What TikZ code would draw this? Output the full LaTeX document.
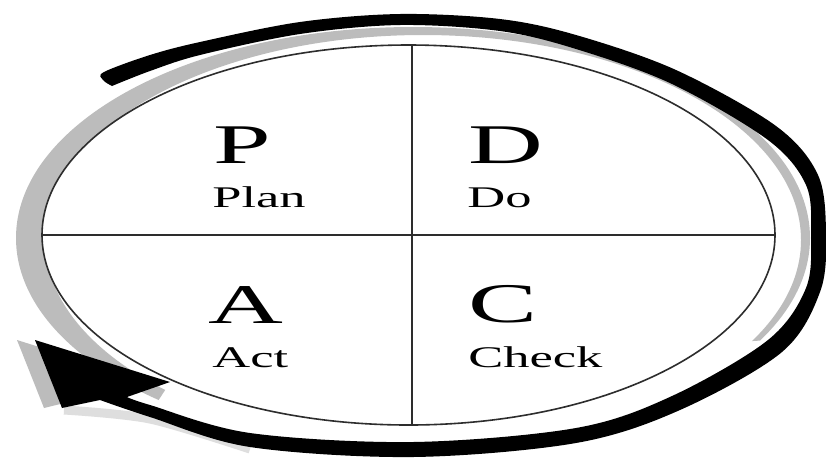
\documentclass[tikz,border=0pt]{standalone}
\usepackage{fontspec}
\setmainfont{Liberation Serif}
\definecolor{ringgray}{RGB}{188,188,188}
\definecolor{softgray}{RGB}{222,222,222}
\definecolor{linegray}{RGB}{45,45,45}
\begin{document}
\begin{tikzpicture}[x=1pt,y=-1pt,
  big/.style={anchor=base west, inner sep=0, font=\fontsize{56}{56}\selectfont, xscale=1.85},
  small/.style={anchor=base west, inner sep=0, font=\fontsize{30}{30}\selectfont, xscale=1.75},
  divider/.style={draw=linegray, line width=1.8}]
\useasboundingbox (0,0) rectangle (826,459);
\fill[white] (0,0) rectangle (826,459);
% gray shadow ring
\begin{scope}
  \clip (0,0) -- (826,0) -- (826,300) -- (770,340) -- (175,375) -- (120,459) -- (0,459) -- cycle;
  \fill[ringgray, even odd rule] (413,238) ellipse [x radius=397, y radius=211]
                                 (423,240) ellipse [x radius=378, y radius=205];
\end{scope}
% shadow of the arrow head and shaft
\draw[softgray, line width=9] plot[smooth] coordinates {(64,410) (150,419) (250,449)};
\fill[ringgray] (17,340) -- (150,382) -- (44,408) -- cycle;
% inner ellipse
\draw[draw=linegray, line width=1.6, fill=white] (408.5,235) ellipse [x radius=366.5, y radius=190];
% dividers
\coordinate (top) at (412,45);
\coordinate (bot) at (412,425);
\coordinate (lft) at (42,235);
\coordinate (rgt) at (775,235);
\draw[divider] (top) -- (bot);
\draw[divider] (lft) -- (rgt);
% black circular arrow
\fill[black]
  plot[smooth, tension=0.55] coordinates {(112,86) (103,80) (104,72) (150,55) (200,42) (300,22) (400,14) (500,19) (576,35) (676,70) (776,126) (818,175) (826,235) (820,292) (782,352) (680,410) (576,443) (413,457) (250,447) (150,417) (100,400)}
  -- (62,408) -- (35,340) -- (170,382) -- (127,397)
  -- plot[smooth, tension=0.55] coordinates {(127,397) (150,405) (250,433) (413,442) (576,428) (672,396) (768,340) (806,288) (811,235) (806,185) (768,140) (672,84) (576,49) (500,31) (400,25) (300,34) (200,55) (150,71) (112,86)}
  -- cycle;
% letters
\node[big] (P) at (213,163) {P};
\node[small] (plan) at (212,207) {Plan};
\node[big] (D) at (468,163) {D};
\node[small] (do) at (467,207) {Do};
\node[big] (A) at (208,323) {A};
\node[small] (act) at (212,367) {Act};
\node[big] (C) at (468,322) {C};
\node[small] (check) at (468,367) {Check};
\end{tikzpicture}
\end{document}
